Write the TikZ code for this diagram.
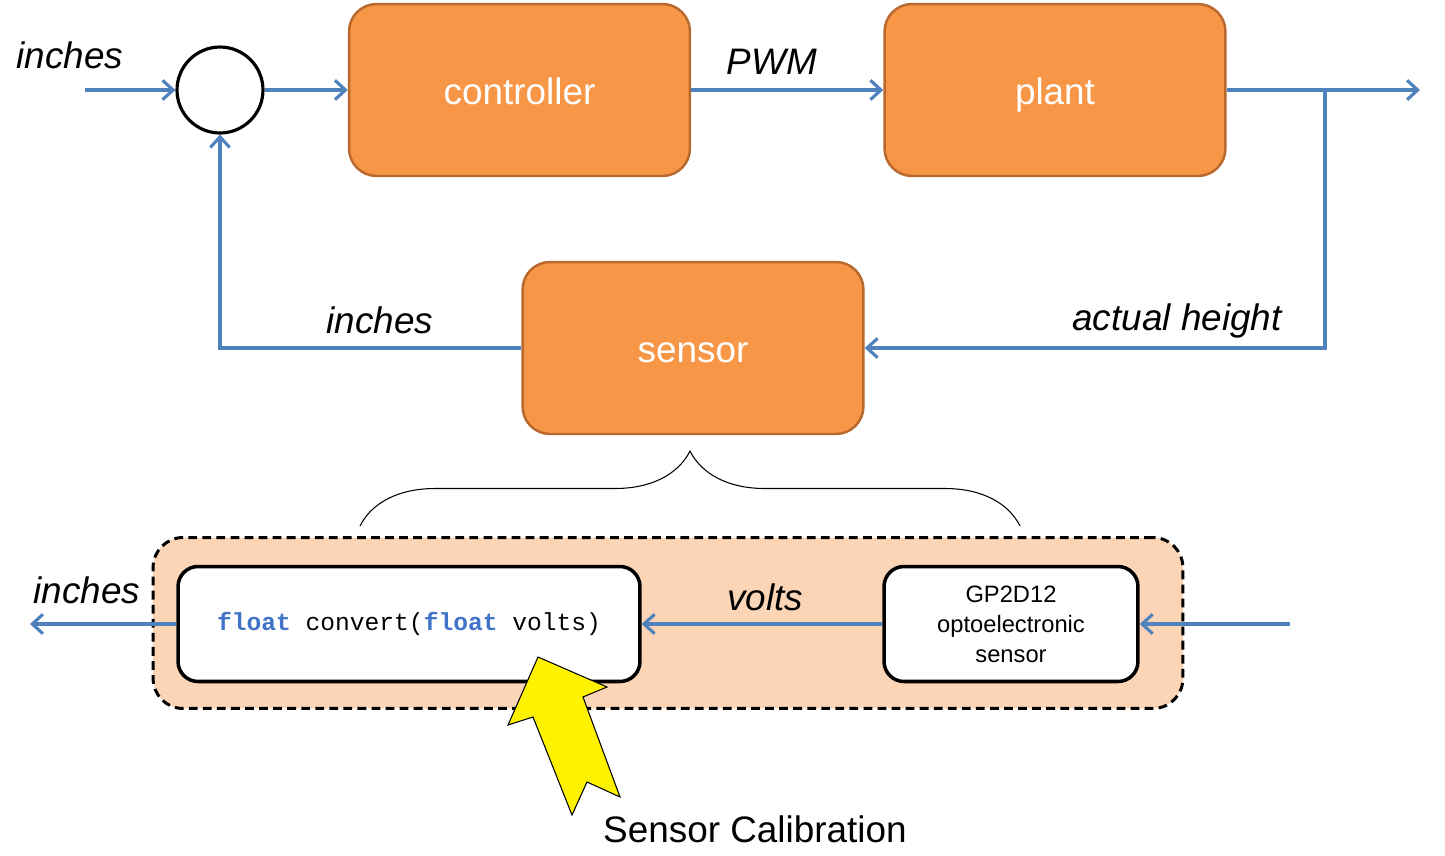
\documentclass[tikz,border=0pt]{standalone}
\usepackage{fontspec}
\setmainfont{Liberation Sans}
\setmonofont{Liberation Mono}
\usetikzlibrary{arrows.meta, positioning, decorations.pathreplacing}
\definecolor{cbblue}{RGB}{79,129,189}
\definecolor{cborange}{RGB}{247,150,70}
\definecolor{cbbrown}{RGB}{185,105,45}
\definecolor{cbpeach}{RGB}{251,213,181}
\definecolor{cbcode}{RGB}{65,115,200}

\begin{document}
\begin{tikzpicture}[x=0.02cm, y=-0.02cm,
  blk/.style={rectangle, rounded corners=0.55cm, fill=cborange, draw=cbbrown,
              line width=1.4pt, minimum width=6.82cm, minimum height=3.44cm,
              text height=18pt, text depth=1pt,
              text=white, font=\fontsize{21}{25}\selectfont},
  sub/.style={rectangle, rounded corners=0.4cm, fill=white, draw=black,
              line width=2pt, minimum height=2.3cm, align=center},
  flow/.style={-{Straight Barb[length=6pt, width=11pt]}, line width=1.8pt, cbblue},
  lbl/.style={font=\fontsize{21}{25}\selectfont\itshape}]
  \useasboundingbox (0,0) rectangle (1445,856);

  % Feedback loop
  \node[circle, draw, line width=1.8pt, minimum size=1.72cm] (sum) at (220,90) {};
  \node[blk] (ctrl) at (519.5,90) {controller};
  \node[blk] (plant) at (1055,90) {plant};
  \node[blk] (sensor) at (693,348) {sensor};

  \coordinate (in) at (85,90);
  \coordinate (out) at (1420,90);
  \coordinate (tap) at (1325,90);

  \draw[flow] (in) -- (sum);
  \draw[flow] (sum) -- (ctrl);
  \draw[flow] (ctrl) -- (plant);
  \draw[flow] (plant) -- (out);
  \draw[flow] (tap) |- (sensor);
  \draw[flow] (sensor) -| (sum);

  \node[lbl] (lin) at (70,55) {inches};
  \node[lbl] (lpwm) at (772,62) {PWM};
  \node[lbl] (lfb) at (380,320) {inches};
  \node[lbl] (lact) at (1177,321) {actual height};

  % Brace over the sensor detail
  \coordinate (bl) at (360,526);
  \coordinate (br) at (1020,526);
  \draw[decorate, decoration={brace, amplitude=1.5cm}, line width=0.6pt] (bl) -- (br);

  % Sensor detail
  \node[rectangle, rounded corners=0.6cm, fill=cbpeach, draw, line width=1.7pt,
        dash pattern=on 5pt off 3pt, minimum width=20.6cm, minimum height=3.42cm]
        (grp) at (668,623) {};
  \node[sub, minimum width=9.24cm, font=\fontsize{14}{17}\selectfont\ttfamily] (conv) at (409,624)
    {\textbf{\textcolor{cbcode}{float}} convert(\textbf{\textcolor{cbcode}{float}} volts)};
  \node[sub, minimum width=5.08cm, font=\fontsize{13.5}{17}\selectfont] (gp) at (1011,624)
    {GP2D12\\optoelectronic\\sensor};

  \coordinate (sin) at (1290,624);
  \coordinate (sout) at (30,624);

  \draw[flow] (sin) -- (gp);
  \draw[flow] (gp) -- (conv);
  \draw[flow] (conv) -- (sout);

  \node[lbl] (lvolts) at (765,597) {volts};
  \node[lbl] (lout) at (87,590) {inches};

  % Calibration pointer
  \draw[fill=yellow, line width=0.6pt, line join=miter]
    (538,657) -- (607,687) -- (583,697) -- (620,797) -- (587,782)
    -- (572,815) -- (533,717) -- (508,725) -- cycle;
  \node[font=\fontsize{21}{25}\selectfont] (cal) at (755,829) {Sensor Calibration};
\end{tikzpicture}
\end{document}
